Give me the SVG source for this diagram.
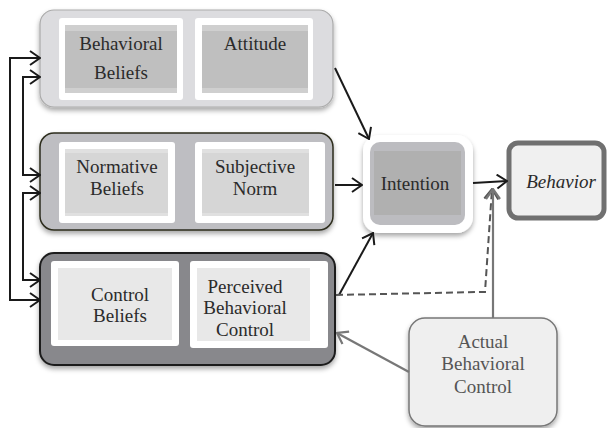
<svg xmlns="http://www.w3.org/2000/svg" width="611" height="428" viewBox="0 0 611 428">
<style>
.t{font-family:'Liberation Serif','Times New Roman',Tinos,'DejaVu Serif',serif;font-size:19px;fill:#2b2b2b;text-anchor:middle}
.g{fill:#555555}
.ln{fill:none;stroke:#1a1a1a;stroke-width:2}
.gl{fill:none;stroke:#777777;stroke-width:2.2}
.wb{fill:#ffffff}
</style>
<defs>
<filter id="sh" x="-10%" y="-10%" width="120%" height="130%">
<feDropShadow dx="0" dy="3" stdDeviation="2.5" flood-color="#000" flood-opacity="0.35"/>
</filter>
<marker id="ar" viewBox="0 0 12 16" refX="11" refY="8" markerWidth="12" markerHeight="16" markerUnits="userSpaceOnUse" orient="auto-start-reverse">
<path d="M1,1 L11,8 L1,15" fill="none" stroke="#1a1a1a" stroke-width="2"/>
</marker>
<marker id="ag" viewBox="0 0 12 16" refX="11" refY="8" markerWidth="12" markerHeight="16" markerUnits="userSpaceOnUse" orient="auto">
<path d="M1,1 L11,8 L1,15" fill="none" stroke="#777777" stroke-width="2.2"/>
</marker>
<marker id="ad" viewBox="0 0 12 16" refX="11" refY="8" markerWidth="12" markerHeight="16" markerUnits="userSpaceOnUse" orient="auto">
<path d="M1,1 L11,8 L1,15" fill="none" stroke="#555555" stroke-width="2"/>
</marker>
<clipPath id="pbc"><rect x="190" y="261" width="138" height="75"/></clipPath>
</defs>

<g id="behavioral-row">
<rect x="40" y="10" width="293" height="97" rx="14" fill="#dcdcdf" stroke="#ababab" stroke-width="1.2" filter="url(#sh)"/>
<rect class="wb" x="59" y="18" width="124" height="82" rx="3"/>
<rect x="65" y="25" width="112" height="68" fill="#cfcfcf"/>
<rect x="65" y="31" width="112" height="57" fill="#bfbfbf"/>
<text class="t" x="121" y="50" font-family="Liberation Serif, serif">Behavioral</text>
<text class="t" x="121" y="79" font-family="Liberation Serif, serif">Beliefs</text>
<rect class="wb" x="195" y="18" width="118" height="82" rx="3"/>
<rect x="202" y="25" width="106" height="68" fill="#cfcfcf"/>
<rect x="202" y="31" width="106" height="57" fill="#bfbfbf"/>
<text class="t" x="255" y="50" font-family="Liberation Serif, serif">Attitude</text>
</g>

<g id="normative-row">
<rect x="40" y="133" width="293" height="97" rx="14" fill="#bebec2" stroke="#2d2d1e" stroke-width="1.5" filter="url(#sh)"/>
<rect class="wb" x="59" y="142" width="116" height="81" rx="3"/>
<rect x="65" y="149" width="103" height="67" fill="#e0e0e0"/>
<rect x="65" y="153" width="103" height="60" fill="#d6d6d6"/>
<text class="t" x="117" y="173" font-family="Liberation Serif, serif">Normative</text>
<text class="t" x="117" y="195" font-family="Liberation Serif, serif">Beliefs</text>
<rect class="wb" x="195" y="142" width="130" height="81" rx="3"/>
<rect x="202" y="149" width="107" height="67" fill="#e0e0e0"/>
<rect x="202" y="153" width="107" height="60" fill="#d6d6d6"/>
<text class="t" x="255" y="173" font-family="Liberation Serif, serif">Subjective</text>
<text class="t" x="255" y="195" font-family="Liberation Serif, serif">Norm</text>
</g>

<g id="control-row">
<rect x="40" y="253" width="295" height="112" rx="14" fill="#88888c" stroke="#1e1e1e" stroke-width="2" filter="url(#sh)"/>
<rect class="wb" x="51" y="261" width="128" height="85" rx="3"/>
<rect x="58" y="268" width="114" height="72" fill="#e8e8e8"/>
<text class="t" x="120" y="301" font-family="Liberation Serif, serif">Control</text>
<text class="t" x="120" y="322" font-family="Liberation Serif, serif">Beliefs</text>
<rect class="wb" x="190" y="261" width="138" height="87" rx="3"/>
<rect x="197" y="268" width="113" height="73" fill="#e8e8e8"/>
<g clip-path="url(#pbc)">
<text class="t" x="245" y="293" font-family="Liberation Serif, serif">Perceived</text>
<text class="t" x="245" y="314" font-family="Liberation Serif, serif">Behavioral</text>
<text class="t" x="245" y="336" font-family="Liberation Serif, serif">Control</text>
</g>
</g>

<g id="intention">
<rect x="363" y="135" width="110" height="98" rx="16" fill="#ffffff" filter="url(#sh)"/>
<rect x="370" y="142" width="95" height="83" rx="10" fill="#bcbcc0"/>
<rect x="374" y="151" width="87" height="64" fill="#b0b0b0"/>
<text class="t" x="415" y="190" font-family="Liberation Serif, serif">Intention</text>
</g>

<g id="behavior">
<rect x="509" y="143" width="95" height="75" rx="9" fill="#f0f0f0" stroke="#707070" stroke-width="5"/>
<text class="t" x="561" y="188" font-style="italic" font-family="Liberation Serif, serif">Behavior</text>
</g>

<g id="actual-behavioral-control">
<rect x="409" y="318" width="148" height="108" rx="16" fill="#efefef" stroke="#777777" stroke-width="1.5" filter="url(#sh)"/>
<text class="t g" x="483" y="348" font-family="Liberation Serif, serif">Actual</text>
<text class="t g" x="483" y="370" font-family="Liberation Serif, serif">Behavioral</text>
<text class="t g" x="483" y="393" font-family="Liberation Serif, serif">Control</text>
</g>

<g id="connectors">
<path class="ln" d="M40,58 H10 V300 H40" marker-start="url(#ar)" marker-end="url(#ar)"/>
<path class="ln" d="M40,77 H23 V175 H40" marker-start="url(#ar)" marker-end="url(#ar)"/>
<path class="ln" d="M40,193 H23 V280 H40" marker-start="url(#ar)" marker-end="url(#ar)"/>
<path class="ln" d="M335,68 L369,139" marker-end="url(#ar)"/>
<path class="ln" d="M335,185 L362,185" marker-end="url(#ar)"/>
<path class="ln" d="M339,295 L373,233" marker-end="url(#ar)"/>
<path class="ln" d="M473,183 L507,181" marker-end="url(#ar)"/>
<path fill="none" stroke="#555555" stroke-width="2" stroke-dasharray="7,4" d="M336,295 L478,292 L485,292 L492,189" marker-end="url(#ad)"/>
<path class="gl" d="M493,318 L493,189" marker-end="url(#ag)"/>
<path class="gl" d="M409,372 L337,333" marker-end="url(#ag)"/>
</g>
</svg>
